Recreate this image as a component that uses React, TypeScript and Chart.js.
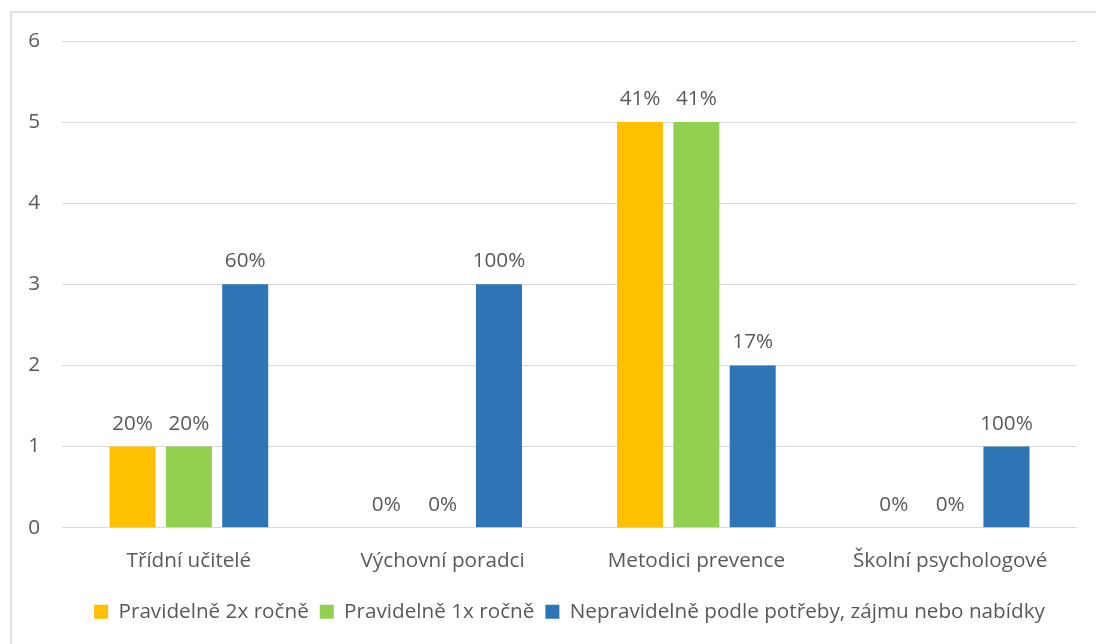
import React, { useEffect, useRef } from "react";
import { Chart, registerables } from "chart.js";

Chart.register(...registerables);

const categories = ["Třídní učitelé", "Výchovní poradci", "Metodici prevence", "Školní psychologové"];
const seriesNames = [
  "Pravidelně 2x ročně",
  "Pravidelně 1x ročně",
  "Nepravidelně podle potřeby, zájmu nebo nabídky",
];
const twiceYearly = [1, 0, 5, 0];
const onceYearly = [1, 0, 5, 0];
const irregular = [3, 3, 2, 1];
const twiceYearlyLabels = ["20%", "0%", "41%", "0%"];
const onceYearlyLabels = ["20%", "0%", "41%", "0%"];
const irregularLabels = ["60%", "100%", "17%", "100%"];
const yMin = 0;
const yMax = 6;
const yStep = 1;

const FONT = "'Open Sans', sans-serif";
const FONT_SIZE = 20.7;
const TEXT_COLOR = "#595959";

const dataLabelPlugin = {
  id: "pctLabels",
  afterDatasetsDraw(chart: any) {
    const ctx = chart.ctx;
    ctx.save();
    ctx.font = `${FONT_SIZE}px ${FONT}`;
    ctx.fillStyle = TEXT_COLOR;
    ctx.textAlign = "center";
    ctx.textBaseline = "alphabetic";
    chart.data.datasets.forEach((ds: any, i: number) => {
      const meta = chart.getDatasetMeta(i);
      meta.data.forEach((el: any, j: number) => {
        ctx.fillText(ds.pctLabels[j], el.x, el.y - 17);
      });
    });
    ctx.restore();
  },
};

export default function App() {
  const ref = useRef<HTMLCanvasElement | null>(null);

  useEffect(() => {
    if (!ref.current) return;
    const chart = new Chart(ref.current, {
      type: "bar",
      data: {
        labels: categories,
        datasets: [
          { label: seriesNames[0], data: twiceYearly, backgroundColor: "#FFC000", pctLabels: twiceYearlyLabels } as any,
          { label: seriesNames[1], data: onceYearly, backgroundColor: "#92D050", pctLabels: onceYearlyLabels } as any,
          { label: seriesNames[2], data: irregular, backgroundColor: "#2E75B6", pctLabels: irregularLabels } as any,
        ],
      },
      options: {
        responsive: false,
        animation: false,
        categoryPercentage: 0.666,
        barPercentage: 0.817,
        layout: { padding: { top: 41, right: 19, left: 0, bottom: 12 } },
        plugins: {
          tooltip: { enabled: false },
          legend: {
            position: "bottom",
            fullSize: false,
            labels: {
              font: { family: FONT, size: FONT_SIZE },
              color: TEXT_COLOR,
              boxWidth: 14,
              boxHeight: 14,
              padding: 11,
            },
          },
        },
        scales: {
          x: {
            grid: { display: false },
            border: { display: false },
            ticks: { font: { family: FONT, size: FONT_SIZE }, color: TEXT_COLOR, padding: 13 },
            afterFit: (s: any) => { s.height = 62.65; },
          },
          y: {
            min: yMin,
            max: yMax,
            grid: { color: "#d9d9d9", lineWidth: 1, drawTicks: false },
            border: { display: false },
            ticks: { stepSize: yStep, font: { family: FONT, size: FONT_SIZE }, color: TEXT_COLOR, padding: 22 },
            afterFit: (s: any) => { s.width = 62; },
          },
        },
      },
      plugins: [dataLabelPlugin],
    });
    return () => chart.destroy();
  }, []);

  return (
    <div style={{ position: "fixed", left: 0, top: 0, width: 1096, height: 644, background: "#fff", overflow: "hidden" }}>
      <div
        style={{
          position: "absolute",
          left: 10,
          top: 11,
          width: 1200,
          height: 800,
          border: "2px solid #e2e2e2",
          boxSizing: "border-box",
        }}
      />
      <canvas ref={ref} width={1096} height={644} style={{ position: "absolute", left: 0, top: 0 }} />
    </div>
  );
}
